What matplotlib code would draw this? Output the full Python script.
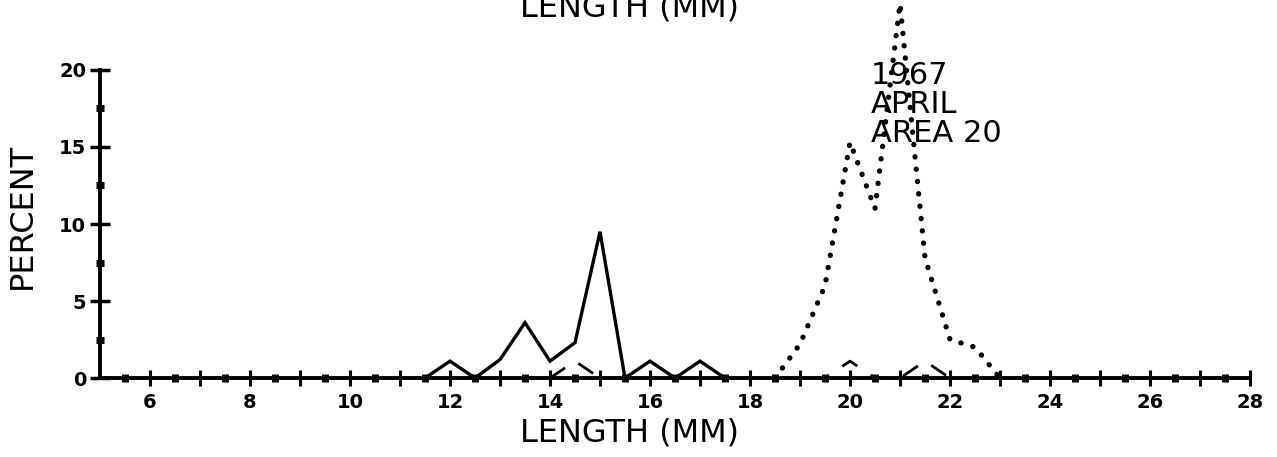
import matplotlib
matplotlib.use('Agg')
import matplotlib.pyplot as plt
from matplotlib.ticker import FixedLocator

# length classes (mm) and percent values
solid_len = [11.5, 12.0, 12.5, 13.0, 13.5, 14.0, 14.5, 15.0, 15.5, 16.0, 16.5, 17.0, 17.5]
solid_pct = [0, 1.1, 0, 1.2, 3.6, 1.1, 2.3, 9.5, 0, 1.1, 0, 1.1, 0]

dash_len = [13.5, 14.0, 14.5, 15.0, 15.5, 16.0, 16.5, 17.0, 17.5, 18.0, 18.5, 19.0,
            19.5, 20.0, 20.5, 21.0, 21.5, 22.0, 22.5]
dash_pct = [0, 0, 1.1, 0, 0, 0, 0, 0, 0, 0, 0, 0,
            0, 1.1, 0, 0, 1.1, 0, 0]

dot_len = [18.5, 19.0, 19.5, 20.0, 20.5, 21.0, 21.5, 22.0, 22.5, 23.0]
dot_pct = [0, 2.2, 6.0, 15.3, 11.0, 24.3, 7.8, 2.5, 2.0, 0]

major_x = list(range(6, 29))
x_labels = [str(v) if v % 2 == 0 else '' for v in major_x]
major_y = [0, 5, 10, 15, 20]

fig = plt.figure(figsize=(12.77, 4.57), dpi=100)
ax = fig.add_axes([100 / 1277, 0.139, 1175 / 1277, 0.863])
ax.set_xlim(5, 28.5)
ax.set_ylim(-1, 24.6)

ax.plot(solid_len, solid_pct, color='black', lw=2.4, solid_joinstyle='miter', clip_on=False)
ax.plot(dash_len, dash_pct, color='black', lw=2.0, ls=(3.2, (6.5, 5.75)), clip_on=False)
ax.plot(dot_len, dot_pct, color='black', lw=3.8, ls=(0, (0.05, 2.3)),
        dash_capstyle='round', clip_on=False)

for s in ['top', 'right']:
    ax.spines[s].set_visible(False)
ax.spines['left'].set_position(('data', 5))
ax.spines['left'].set_bounds(0, 20)
ax.spines['bottom'].set_position(('data', 0))
ax.spines['bottom'].set_bounds(5, 28)
for s in ['left', 'bottom']:
    ax.spines[s].set_linewidth(2.8)

ax.xaxis.set_major_locator(FixedLocator(major_x))
ax.set_xticklabels(x_labels)
ax.xaxis.set_minor_locator(FixedLocator([v + 0.5 for v in range(5, 28)]))
ax.yaxis.set_major_locator(FixedLocator(major_y))
ax.yaxis.set_minor_locator(FixedLocator([2.5, 7.5, 12.5, 17.5]))

ax.tick_params(axis='x', which='major', direction='inout', length=11, width=2.2, pad=5,
               labelsize=14)
ax.tick_params(axis='y', which='major', direction='inout', length=14, width=2.5, pad=3,
               labelsize=14)
ax.tick_params(which='minor', direction='inout', length=5.5, width=5)
for lab in ax.get_xticklabels() + ax.get_yticklabels():
    lab.set_fontweight('bold')

ax.set_xlabel('LENGTH (MM)', fontsize=23, va='center')
ax.xaxis.set_label_coords(0.451, -0.1)
ax.set_ylabel('PERCENT', fontsize=23, va='center')
ax.yaxis.set_label_coords(-0.066, 0.45)

ax.text(20.42, 20.55, '1967\nAPRIL\nAREA 20', fontsize=22, ha='left', va='top',
        linespacing=1.0)

fig.text(0.493, 0.963, 'LENGTH (MM)', fontsize=23, ha='center', va='baseline')

fig.savefig('out.png', dpi=100)
